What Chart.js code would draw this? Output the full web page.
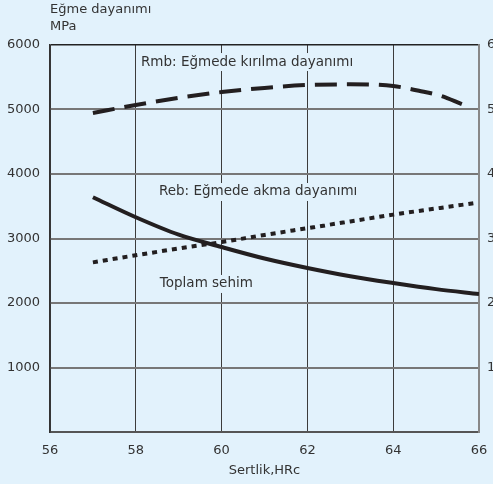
<!DOCTYPE html>
<html>
<head>
<meta charset="utf-8">
<script src="https://cdn.jsdelivr.net/npm/chart.js@4/dist/chart.umd.min.js"></script>
<style>
  html, body { margin: 0; padding: 0; overflow: hidden; background: #e2f2fc; }
  #wrap { width: 540px; height: 484px; }
</style>
</head>
<body>
<div id="wrap"><canvas id="chart" width="540" height="484"></canvas></div>
<script>
// hardness (HRc) on x, strength (MPa) on y
const rmbHrc = [57, 58, 59, 60, 61, 62, 63, 64, 64.6, 65.1, 65.6];
const rmbMpa = [4946, 5070, 5180, 5270, 5335, 5380, 5390, 5364, 5290, 5215, 5085];

const rebHrc = [57, 58, 59, 60, 61, 62, 63, 64, 65, 65.9];
const rebMpa = [2630, 2740, 2845, 2945, 3055, 3160, 3265, 3370, 3465, 3550];

const sehimHrc = [57, 58, 59, 60, 61, 62, 63, 64, 65, 66];
const sehimVal = [3640, 3330, 3060, 2868, 2690, 2543, 2415, 2310, 2215, 2140];

const xTicks = [56, 58, 60, 62, 64, 66];
const yTicks = [0, 1000, 2000, 3000, 4000, 5000, 6000];

// in-chart labels, anchored in data coordinates (left edge, vertical middle)
const notes = [
  { text: 'Rmb: Eğmede kırılma dayanımı', x: 58.12, y: 5736 },
  { text: 'Reb: Eğmede akma dayanımı', x: 58.54, y: 3721 },
  { text: 'Toplam sehim', x: 58.56, y: 2295 }
];

const BG = '#e2f2fc';
const INK = '#231f20';
const TEXT = '#333333';
const FONT = { family: 'DejaVu Sans', size: 13 };
const NOTE_FONT = '13.5px DejaVu Sans';

const toPoints = (xs, ys) => xs.map((x, i) => ({ x, y: ys[i] }));

const background = {
  id: 'background',
  beforeDraw(chart) {
    const { ctx } = chart;
    ctx.save();
    ctx.fillStyle = BG;
    ctx.fillRect(0, 0, chart.width, chart.height);
    ctx.restore();
  }
};

const labels = {
  id: 'labels',
  afterDatasetsDraw(chart) {
    const { ctx, scales } = chart;
    ctx.save();
    ctx.font = NOTE_FONT;
    ctx.textBaseline = 'middle';
    ctx.textAlign = 'left';
    notes.forEach(n => {
      const px = scales.x.getPixelForValue(n.x);
      const py = scales.y.getPixelForValue(n.y);
      const w = ctx.measureText(n.text).width;
      ctx.fillStyle = BG;
      ctx.fillRect(px - 3, py - 9, w + 6, 18);
      ctx.fillStyle = TEXT;
      ctx.fillText(n.text, px, py);
    });
    // axis heading, top left
    ctx.font = `${FONT.size}px ${FONT.family}`;
    ctx.fillText('Eğme dayanımı', chart.chartArea.left, 10);
    ctx.fillText('MPa', chart.chartArea.left, 27);
    ctx.restore();
  }
};

const lineStyle = { borderColor: INK, borderWidth: 4, pointRadius: 0, fill: false,
  cubicInterpolationMode: 'monotone', borderCapStyle: 'butt' };

new Chart(document.getElementById('chart'), {
  type: 'line',
  data: {
    datasets: [
      Object.assign({ label: 'Rmb', data: toPoints(rmbHrc, rmbMpa), borderDash: [22, 10] }, lineStyle),
      Object.assign({ label: 'Reb', data: toPoints(rebHrc, rebMpa), borderDash: [5, 5] }, lineStyle),
      Object.assign({ label: 'Toplam sehim', data: toPoints(sehimHrc, sehimVal) }, lineStyle)
    ]
  },
  options: {
    responsive: false,
    animation: false,
    layout: { padding: { top: 45, left: 0, right: 0, bottom: 0 } },
    plugins: { legend: { display: false }, tooltip: { enabled: false } },
    scales: {
      x: {
        type: 'linear', min: 56, max: 66,
        afterBuildTicks: s => { s.ticks = xTicks.map(v => ({ value: v })); },
        ticks: { color: TEXT, font: FONT, padding: 11 },
        grid: { color: '#3c3c3c', lineWidth: 1, drawTicks: false },
        border: { color: '#555', width: 2 },
        title: { display: true, text: 'Sertlik,HRc', color: TEXT, font: FONT, padding: { top: 0, bottom: 6 } },
        afterFit: s => { s.height = 52; }
      },
      y: {
        position: 'left', min: 0, max: 6000,
        afterBuildTicks: s => { s.ticks = yTicks.map(v => ({ value: v })); },
        ticks: { color: TEXT, font: FONT, padding: 10, callback: v => (v === 0 ? '' : v) },
        grid: { color: c => (c.tick && c.tick.value === 6000 ? '#222' : '#777'),
                lineWidth: c => (c.tick && c.tick.value === 6000 ? 1.5 : 2), drawTicks: false },
        border: { color: '#333', width: 1.5 },
        afterFit: s => { s.width = 50; }
      },
      y2: {
        position: 'right', min: 0, max: 6000,
        afterBuildTicks: s => { s.ticks = yTicks.map(v => ({ value: v })); },
        ticks: { color: TEXT, font: FONT, padding: 8, callback: v => (v === 0 ? '' : v) },
        grid: { display: false, drawTicks: false },
        border: { color: '#888', width: 2 },
        afterFit: s => { s.width = 61; }
      }
    }
  },
  plugins: [background, labels]
});
</script>
</body>
</html>
